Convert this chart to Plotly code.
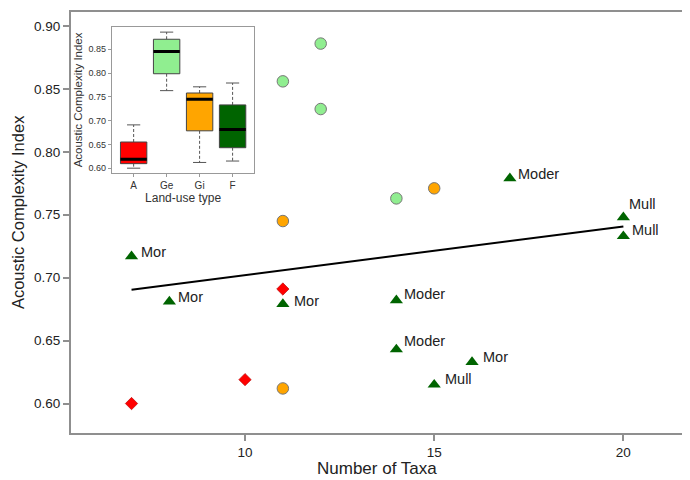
import numpy as np
import plotly.graph_objects as go

# ---------------- data ----------------
arable_taxa = [7, 10, 11]
arable_aci = [0.600, 0.619, 0.691]

gi_taxa = [11, 11, 15]
gi_aci = [0.745, 0.612, 0.771]

ge_taxa = [11, 12, 12, 14]
ge_aci = [0.856, 0.886, 0.834, 0.763]

forest_taxa = [7, 8, 11, 14, 14, 15, 16, 17, 20, 20]
forest_aci = [0.717, 0.681, 0.679, 0.682, 0.643, 0.615, 0.633, 0.779, 0.748, 0.733]
forest_humus = ["Mor", "Mor", "Mor", "Moder", "Moder", "Mull", "Mor", "Moder", "Mull", "Mull"]

fit_taxa = [7, 20]
fit_aci = [0.6905, 0.7407]

landuse_labels = ["A", "Ge", "Gi", "F"]

x_ticks = [10, 15, 20]
y_ticks = [0.60, 0.65, 0.70, 0.75, 0.80, 0.85, 0.90]
inset_y_ticks = [0.60, 0.65, 0.70, 0.75, 0.80, 0.85]

# ---------------- styling ----------------
FONT = "Liberation Sans, Arial, Helvetica, sans-serif"
RED, LGREEN, ORANGE, DGREEN = "#FF0000", "#90EE90", "#FFA500", "#006400"
label_shift = [(7, 4), (7, 5), (9, 3), (6, 6), (6, 8), (9, 6), (9, 5), (6, 4), (4, 13), (7, 6)]

fig = go.Figure()

# regression line
fig.add_trace(go.Scatter(x=fit_taxa, y=fit_aci, mode="lines",
                         line=dict(color="black", width=2), showlegend=False, hoverinfo="skip"))

fig.add_trace(go.Scatter(x=arable_taxa, y=arable_aci, mode="markers", showlegend=False,
                         marker=dict(symbol="diamond", size=9.5, color=RED,
                                     line=dict(color="#b00000", width=0.6))))
fig.add_trace(go.Scatter(x=gi_taxa, y=gi_aci, mode="markers", showlegend=False,
                         marker=dict(symbol="circle", size=11.5, color=ORANGE,
                                     line=dict(color="#777777", width=1))))
fig.add_trace(go.Scatter(x=ge_taxa, y=ge_aci, mode="markers", showlegend=False,
                         marker=dict(symbol="circle", size=11.5, color=LGREEN,
                                     line=dict(color="#777777", width=1))))
fig.add_trace(go.Scatter(x=forest_taxa, y=forest_aci, mode="markers", showlegend=False,
                         marker=dict(symbol="triangle-up", size=11.5, color=DGREEN,
                                     line=dict(width=0))))

annotations = []
for xv, yv, lab, (dx, dy) in zip(forest_taxa, forest_aci, forest_humus, label_shift):
    annotations.append(dict(x=xv, y=yv, xref="x", yref="y", text=lab, showarrow=False,
                            xanchor="left", yanchor="middle", xshift=dx, yshift=dy,
                            font=dict(family=FONT, size=14.5, color="#222222")))

# main axis titles
annotations.append(dict(x=0.5, y=-0.0832, xref="paper", yref="paper", text="Number of Taxa",
                        showarrow=False, xanchor="center", yanchor="middle",
                        font=dict(family=FONT, size=17, color="#222222")))
annotations.append(dict(x=-0.0868, y=0.5246, xref="paper", yref="paper",
                        text="Acoustic Complexity Index", textangle=-90,
                        showarrow=False, xanchor="center", yanchor="middle", borderpad=0,
                        font=dict(family=FONT, size=16.5, color="#222222")))

# ---------------- inset boxplot ----------------
def fivenum(v):
    v = np.sort(np.asarray(v, dtype=float))
    n = len(v)
    n4 = np.floor((n + 3) / 2) / 2
    d = np.array([1, n4, (n + 1) / 2, n + 1 - n4, n]) - 1
    return 0.5 * (v[np.floor(d).astype(int)] + v[np.ceil(d).astype(int)])

groups = [arable_aci, ge_aci, gi_aci, forest_aci]
fills = [RED, LGREEN, ORANGE, DGREEN]
for i, (vals, fc) in enumerate(zip(groups, fills), start=1):
    lo, q1, med, q3, hi = fivenum(vals)
    fig.add_trace(go.Scatter(x=[i, i, None, i, i], y=[q3, hi, None, q1, lo], mode="lines",
                             line=dict(color="#555555", width=1, dash="3px,2px"),
                             xaxis="x2", yaxis="y2", showlegend=False, hoverinfo="skip"))
    fig.add_trace(go.Scatter(x=[i - 0.2, i + 0.2, None, i - 0.2, i + 0.2],
                             y=[hi, hi, None, lo, lo], mode="lines",
                             line=dict(color="#555555", width=1),
                             xaxis="x2", yaxis="y2", showlegend=False, hoverinfo="skip"))
    fig.add_trace(go.Scatter(x=[i - 0.4, i + 0.4, i + 0.4, i - 0.4, i - 0.4],
                             y=[q1, q1, q3, q3, q1], mode="lines", fill="toself",
                             fillcolor=fc, line=dict(color="#444444", width=1),
                             xaxis="x2", yaxis="y2", showlegend=False, hoverinfo="skip"))
    fig.add_trace(go.Scatter(x=[i - 0.4, i + 0.4], y=[med, med], mode="lines",
                             line=dict(color="black", width=3),
                             xaxis="x2", yaxis="y2", showlegend=False, hoverinfo="skip"))

# The page body has an 8px default margin, so the figure is 8px smaller and margins are
# reduced accordingly to land the plot area where the reference has it.
fig.update_layout(
    width=682, height=472,
    margin=dict(l=63, r=7.5, t=4, b=47.3),
    paper_bgcolor="white", plot_bgcolor="white",
    font=dict(family=FONT, color="#222222"),
    annotations=annotations,
    xaxis=dict(range=[5.40, 21.55], tickvals=x_ticks, ticktext=[str(t) for t in x_ticks],
               automargin=False,
               showgrid=False, zeroline=False, showline=True, mirror=True,
               linecolor="#8f8f8f", linewidth=2, ticks="outside", ticklen=6,
               tickcolor="#8f8f8f", tickwidth=1.5, tickfont=dict(size=13.5, color="#222")),
    yaxis=dict(range=[0.5766, 0.9111], tickvals=y_ticks, ticktext=["%.2f" % t for t in y_ticks],
               automargin=False,
               showgrid=False, zeroline=False, showline=True, mirror=True,
               linecolor="#8f8f8f", linewidth=2, ticks="outside", ticklen=6,
               tickcolor="#8f8f8f", tickwidth=1.5, tickfont=dict(size=13.5, color="#222")),
    xaxis2=dict(domain=[0.0669, 0.3001], anchor="y2", range=[0.34, 4.66],
                tickvals=[1, 2, 3, 4], ticktext=landuse_labels, automargin=False,
                showgrid=False, zeroline=False, showline=True, mirror=True,
                linecolor="#999999", linewidth=1, ticks="outside", ticklen=3,
                tickcolor="#999999", tickfont=dict(size=10, color="#333"),
                title=dict(text="Land-use type", font=dict(size=12, color="#333"), standoff=0)),
    yaxis2=dict(domain=[0.6173, 0.9651], anchor="x2", range=[0.5896, 0.8974],
                tickvals=inset_y_ticks, ticktext=["%.2f" % t for t in inset_y_ticks],
                automargin=False,
                showgrid=False, zeroline=False, showline=True, mirror=True,
                linecolor="#999999", linewidth=1, ticks="outside", ticklen=3,
                tickcolor="#999999", tickfont=dict(size=9, color="#333"),
                title=dict(text="Acoustic Complexity Index", font=dict(size=11.5, color="#333"),
                           standoff=3)),
)

fig.write_html("out.html")
